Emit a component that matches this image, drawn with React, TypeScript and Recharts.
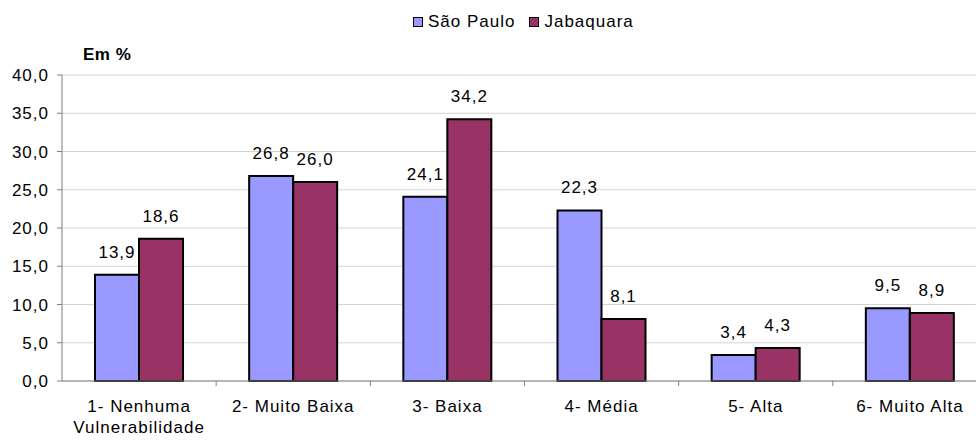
import { Bar, BarChart, CartesianGrid, LabelList, XAxis, YAxis } from 'recharts';

const categories = [
  '1- Nenhuma\nVulnerabilidade',
  '2- Muito Baixa',
  '3- Baixa',
  '4- Média',
  '5- Alta',
  '6- Muito Alta',
];
const saoPaulo = [13.9, 26.8, 24.1, 22.3, 3.4, 9.5];
const jabaquara = [18.6, 26.0, 34.2, 8.1, 4.3, 8.9];
const yTicks = [0, 5, 10, 15, 20, 25, 30, 35, 40];

const seriesInfo = [
  { key: 'saoPaulo', name: 'São Paulo', color: '#9999FF' },
  { key: 'jabaquara', name: 'Jabaquara', color: '#993366' },
];

const data = categories.map((name, i) => ({
  name,
  saoPaulo: saoPaulo[i],
  jabaquara: jabaquara[i],
}));

const fmt = (v: any) => Number(v).toFixed(1).replace('.', ',');

const CHART_W = 995;
const PLOT_LEFT = 62;
const PLOT_RIGHT = 8;
const band = (CHART_W - PLOT_LEFT - PLOT_RIGHT) / categories.length;

const CategoryTick = (props: any) => {
  const { x, y, payload } = props;
  const lines = String(payload.value).split('\n');
  return (
    <g>
      <line x1={x + band / 2} x2={x + band / 2} y1={381} y2={386} stroke="#808080" />
      <text x={x} y={y} textAnchor="middle" fontSize={17} fill="#000">
        {lines.map((l, i) => (
          <tspan key={i} x={x} dy={i === 0 ? 23 : 21}>
            {l}
          </tspan>
        ))}
      </text>
    </g>
  );
};

const App = () => {
  return (
    <div
      style={{
        position: 'fixed',
        top: 0,
        left: 0,
        width: 976,
        height: 441,
        overflow: 'hidden',
        background: '#fff',
        fontFamily: '"Liberation Sans", Arial, sans-serif',
        letterSpacing: '1px',
      }}
    >
      <div
        style={{
          position: 'absolute',
          top: 12,
          left: 413,
          display: 'flex',
          alignItems: 'center',
          fontSize: 17,
          lineHeight: '20px',
          whiteSpace: 'nowrap',
        }}
      >
        {seriesInfo.map((s) => (
          <div key={s.key} style={{ display: 'flex', alignItems: 'center', marginRight: 14 }}>
            <span
              style={{
                display: 'inline-block',
                width: 8,
                height: 8,
                background: s.color,
                border: '1.5px solid #000',
                marginRight: 5,
              }}
            />
            <span>{s.name}</span>
          </div>
        ))}
      </div>
      <div
        style={{
          position: 'absolute',
          top: 45,
          left: 83,
          fontSize: 17,
          lineHeight: '20px',
          fontWeight: 'bold',
          letterSpacing: '0.5px',
        }}
      >
        Em %
      </div>
      <div style={{ position: 'absolute', top: 0, left: 0 }}>
        <BarChart
          width={CHART_W}
          height={441}
          data={data}
          margin={{ top: 75, right: PLOT_RIGHT, left: 0, bottom: 10 }}
          barSize={44}
          barGap={0}
        >
          <CartesianGrid vertical={false} stroke="#d4d4d4" />
          <XAxis
            dataKey="name"
            height={50}
            axisLine={{ stroke: '#808080' }}
            tickLine={false}
            tick={<CategoryTick />}
            interval={0}
          />
          <YAxis
            width={PLOT_LEFT}
            domain={[0, 40]}
            ticks={yTicks}
            tickFormatter={fmt}
            axisLine={{ stroke: '#808080' }}
            tickLine={{ stroke: '#808080' }}
            tickSize={5}
            tickMargin={8}
            tick={{ fill: '#000', fontSize: 17 }}
          />
          {seriesInfo.map((s) => (
            <Bar
              key={s.key}
              dataKey={s.key}
              name={s.name}
              fill={s.color}
              stroke="#000"
              strokeWidth={2}
              isAnimationActive={false}
            >
              <LabelList
                dataKey={s.key}
                position="top"
                offset={17}
                formatter={fmt}
                fill="#000"
                fontSize={17}
              />
            </Bar>
          ))}
        </BarChart>
      </div>
    </div>
  );
};

export default App;
